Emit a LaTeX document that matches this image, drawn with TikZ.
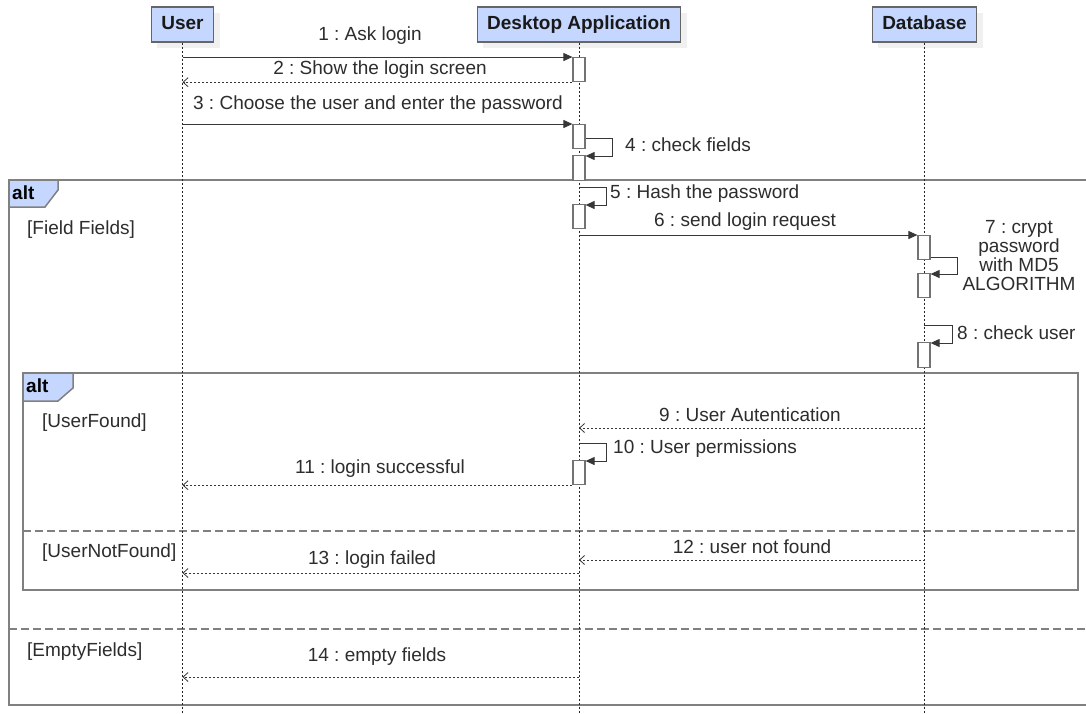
\documentclass[tikz,border=0pt]{standalone}
\usepackage{fontspec}
\setmainfont{Liberation Sans}
\usepackage{xcolor}
\usepackage{tikz}
\usetikzlibrary{arrows.meta}
\usetikzlibrary{shadows}
\frenchspacing
\definecolor{headblue}{RGB}{197,215,255}
\definecolor{framegray}{RGB}{128,128,128}
\definecolor{txtgray}{RGB}{45,45,45}
\definecolor{msggray}{RGB}{55,55,55}
\tikzstyle{txt}=[font=\fontsize{19}{19}\selectfont, text=txtgray, inner sep=0pt]
\tikzstyle{head}=[draw=black!60, line width=1.2pt, fill=headblue, minimum height=35pt, inner xsep=10pt,
  text height=13.5pt, text depth=4pt,
  font=\fontsize{19}{19}\selectfont\bfseries, text=black!90,
  drop shadow={shadow xshift=6pt, shadow yshift=-6pt, fill=black!6, opacity=1}]
\tikzstyle{life}=[line width=1pt, black!85, dash pattern=on 2pt off 2pt]
\tikzstyle{act}=[draw=black!55, line width=1.2pt, fill=white, minimum width=12pt, inner sep=0pt, anchor=north]
\tikzstyle{msg}=[line width=1pt, msggray, -{Triangle[length=9pt,width=8pt]}]
\tikzstyle{ret}=[line width=1pt, msggray, dash pattern=on 2pt off 2pt, -{Straight Barb[length=5pt,width=9pt,line width=0.8pt]}]
\tikzstyle{frame}=[line width=1.5pt, framegray]
\tikzstyle{sep}=[line width=1.5pt, framegray, dash pattern=on 8pt off 4pt]
\tikzstyle{altlab}=[font=\fontsize{19}{19}\selectfont\bfseries, text=black, inner sep=0pt, anchor=west]
\begin{document}
\begin{tikzpicture}[x=1pt,y=-1pt]
	\useasboundingbox[fill=white] (0,0) rectangle (1086,713);
	% frames
	\draw[frame] (1090,180) -- (9,180) -- (9,705) -- (1090,705);
	\draw[frame, fill=headblue] (9,180) -- (58,180) -- (58,190) -- (45,207) -- (9,207) -- cycle;
	\node[altlab] (alt1) at (12,193) {alt};
	\draw[sep] (9,629) -- (1090,629);
	\draw[frame] (23,373) rectangle (1078,590);
	\draw[frame, fill=headblue] (23,373) -- (73,373) -- (73,388) -- (58,401) -- (23,401) -- cycle;
	\node[altlab] (alt2) at (26,386) {alt};
	\draw[sep] (23,531) -- (1078,531);
	\node[txt, anchor=west] (g1) at (27,230) {[Field Fields]};
	\node[txt, anchor=west] (g2) at (42,423) {[UserFound]};
	\node[txt, anchor=west] (g3) at (42,553) {[UserNotFound]};
	\node[txt, anchor=west] (g4) at (27,652) {[EmptyFields]};
	% lifelines
	\node[head] (user) at (182.5,24.5) {User};
	\node[head] (app)  at (579,24.5)   {Desktop Application};
	\node[head] (db)   at (924.5,24.5) {Database};
	\draw[life] (user) -- (user |- 0,713);
	\draw[life] (app)  -- (app |- 0,713);
	\draw[life] (db)   -- (db |- 0,713);
	% activations
	\node[act, minimum height=24pt] (a1)  at (579,57)  {};
	\node[act, minimum height=24pt] (a3)  at (579,124) {};
	\node[act, minimum height=25pt] (a4)  at (579,155) {};
	\node[act, minimum height=24pt] (a5)  at (579,204) {};
	\node[act, minimum height=24pt] (a6)  at (924,235) {};
	\node[act, minimum height=24pt] (a7)  at (924,273) {};
	\node[act, minimum height=25pt] (a8)  at (924,342) {};
	\node[act, minimum height=24pt] (a10) at (579,460) {};
	\coordinate (s5)  at (579,187);
	\coordinate (s8)  at (924,325);
	\coordinate (s10) at (579,443);
	% messages
	\draw[msg] (user |- a1.north) -- (a1.north west);
	\draw[ret] (a1.south west) -- (a1.south west -| user);
	\draw[msg] (user |- a3.north) -- (a3.north west);
	\draw[msg] ([yshift=-2pt]a3.east) -- ++(27,0) |- ([yshift=-1pt]a4.north east);
	\draw[msg] (s5) -- ++(27,0) |- ([yshift=-1pt]a5.north east);
	\draw[msg] (app |- a6.north) -- (a6.north west);
	\draw[msg] ([yshift=3pt]a6.south east) -- ++(27,0) |- ([yshift=-1pt]a7.north east);
	\draw[msg] (s8) -- ++(28,0) |- ([yshift=-1pt]a8.north east);
	\draw[ret] (db |- 0,428) -- (app |- 0,428);
	\draw[msg] (s10) -- ++(27,0) |- ([yshift=-1pt]a10.north east);
	\draw[ret] (a10.south west) -- (a10.south west -| user);
	\draw[ret] (db |- 0,560) -- (app |- 0,560);
	\draw[ret] (app |- 0,573) -- (user |- 0,573);
	\draw[ret] (app |- 0,677) -- (user |- 0,677);
	% labels
	\node[txt] (l1)  at (370,36)  {1 : Ask login};
	\node[txt] (l2)  at (380,70)  {2 : Show the login screen};
	\node[txt] (l3)  at (378,105) {3 : Choose the user and enter the password};
	\node[txt, anchor=west] (l4)  at (625,145) {4 : check fields};
	\node[txt, anchor=west] (l5)  at (610,194) {5 : Hash the password};
	\node[txt] (l6)  at (745,222) {6 : send login request};
	\node[txt, align=center] (l7) at (1019,256) {7 : crypt\\password\\with MD5\\ALGORITHM};
	\node[txt, anchor=west] (l8)  at (957,333) {8 : check user};
	\node[txt] (l9)  at (750,415) {9 : User Autentication};
	\node[txt, anchor=west] (l10) at (613,449) {10 : User permissions};
	\node[txt] (l11) at (380,469) {11 : login successful};
	\node[txt] (l12) at (752,547) {12 : user not found};
	\node[txt] (l13) at (372,560) {13 : login failed};
	\node[txt] (l14) at (377,657) {14 : empty fields};
\end{tikzpicture}
\end{document}
